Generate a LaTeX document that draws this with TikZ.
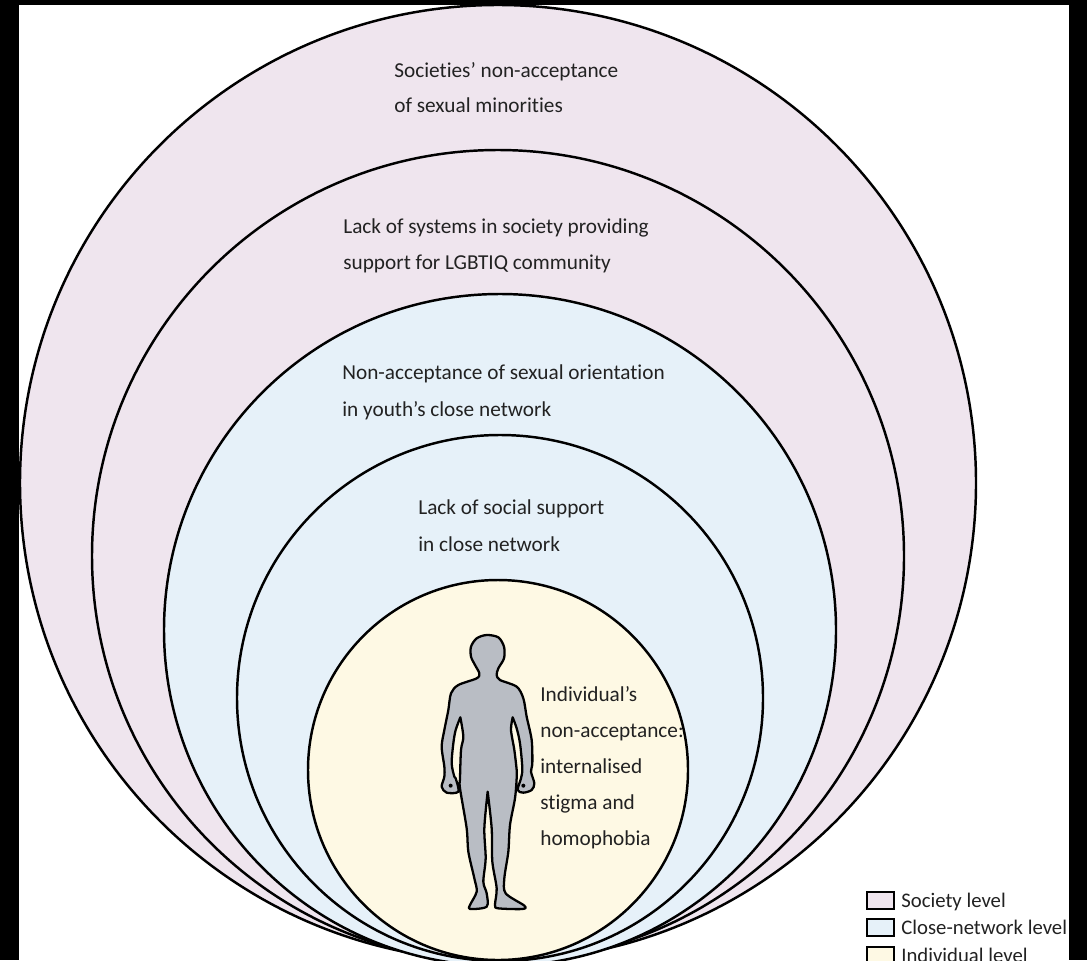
\documentclass[tikz,border=0pt]{standalone}
\usepackage{fontspec}
\setmainfont[Ligatures=NoCommon]{Carlito}
\definecolor{societycol}{HTML}{EFE5EE}
\definecolor{closecol}{HTML}{E6F1F9}
\definecolor{selfcol}{HTML}{FEF9E4}
\definecolor{bodycol}{HTML}{B9BDC4}
\definecolor{inkcol}{HTML}{222222}
\tikzset{
  ring/.style={draw=black, line width=1.4pt},
  caption/.style={anchor=base west, inner sep=0pt, text=inkcol, font=\fontsize{12.1}{16}\selectfont},
  keybox/.style={draw=black, line width=1.6pt},
  keytext/.style={anchor=base west, inner sep=0pt, text=inkcol, font=\fontsize{11.8}{16}\selectfont}
}
\begin{document}
\begin{tikzpicture}[x=0.02cm, y=-0.02cm]
  \useasboundingbox (0,0) rectangle (1087,960);
  \clip (0,0) rectangle (1087,960);
  \fill[white] (0,0) rectangle (1087,960);
  % rings, outer to inner
  \foreach \cx/\cy/\r/\col in {498/483/478/societycol, 498/556/406/societycol, 500/630/336/closecol, 500/698/263/closecol, 498/770/190/selfcol} {
    \draw[ring, fill=\col] (\cx,\cy) circle (\r);
  }
  % frame
  \fill[black] (0,0) rectangle (1087,5);
  \fill[black] (0,0) rectangle (19,960);
  \fill[black] (1069,0) rectangle (1087,960);
  % labels
  \node[caption] (soc1) at (394,77) {Societies’ non-acceptance};
  \node[caption] (soc2) at (394,112) {of sexual minorities};
  \node[caption] (sys1) at (343,233) {Lack of systems in society providing};
  \node[caption] (sys2) at (343,269) {support for LGBTIQ community};
  \node[caption] (net1) at (342,379) {Non-acceptance of sexual orientation};
  \node[caption] (net2) at (342,416) {in youth’s close network};
  \node[caption] (sup1) at (418,514) {Lack of social support};
  \node[caption] (sup2) at (418,551) {in close network};
  \node[caption] (ind1) at (540,701) {Individual’s};
  \node[caption] (ind2) at (540,737) {non-acceptance:};
  \node[caption] (ind3) at (540,773) {internalised};
  \node[caption] (ind4) at (540,809) {stigma and};
  \node[caption] (ind5) at (540,845) {homophobia};
  % figure
  \begin{scope}[shift={(435,630)}, x=0.006667cm, y=-0.006667cm]
    \draw[fill=bodycol, draw=black, line width=1.3pt, line join=round]
      plot[smooth, tension=.5] coordinates {(76,262) (62,300) (55,340) (50,400) (58,440) (62,445) (70,485) (35,488) (20,470) (28,440) (28,410) (20,350) (28,300) (40,240) (48,190) (70,165) (125,145) (133,130) (120,105) (108,80) (108,50) (125,25) (155,15) (190,22) (207,50) (207,85) (190,115) (185,135) (195,150) (245,170) (265,205) (275,260) (290,330) (292,400) (288,425) (298,460) (290,480) (265,488) (248,480) (258,445) (262,415) (255,340) (245,295) (233,262)}
      -- plot[smooth, tension=.5] coordinates {(233,262) (228,300) (238,360) (245,420) (245,445) (240,505) (225,585) (220,665) (208,745) (212,790) (268,827) (262,837) (190,835) (180,825) (185,775) (172,695) (170,595) (158,485)}
      -- plot[smooth, tension=.5] coordinates {(158,485) (148,595) (152,685) (145,755) (155,790) (155,830) (105,837) (105,825) (125,785) (118,745) (100,665) (95,595) (75,475) (75,445) (78,360) (85,320) (76,262)}
      -- cycle;
    \fill[black] (47,467) circle (6);
    \fill[black] (265,467) circle (6);
  \end{scope}
  % key
  \foreach \ky/\col/\name/\lab in {892/societycol/keysoc/Society level, 919/closecol/keynet/Close-network level, 947/selfcol/keyind/Individual level} {
    \draw[keybox, fill=\col] (867,\ky) rectangle (894,\ky+17);
    \node[keytext] (\name) at (901,\ky+15) {\lab};
  }
  \fill[black] (1069,860) rectangle (1087,960);
\end{tikzpicture}
\end{document}
